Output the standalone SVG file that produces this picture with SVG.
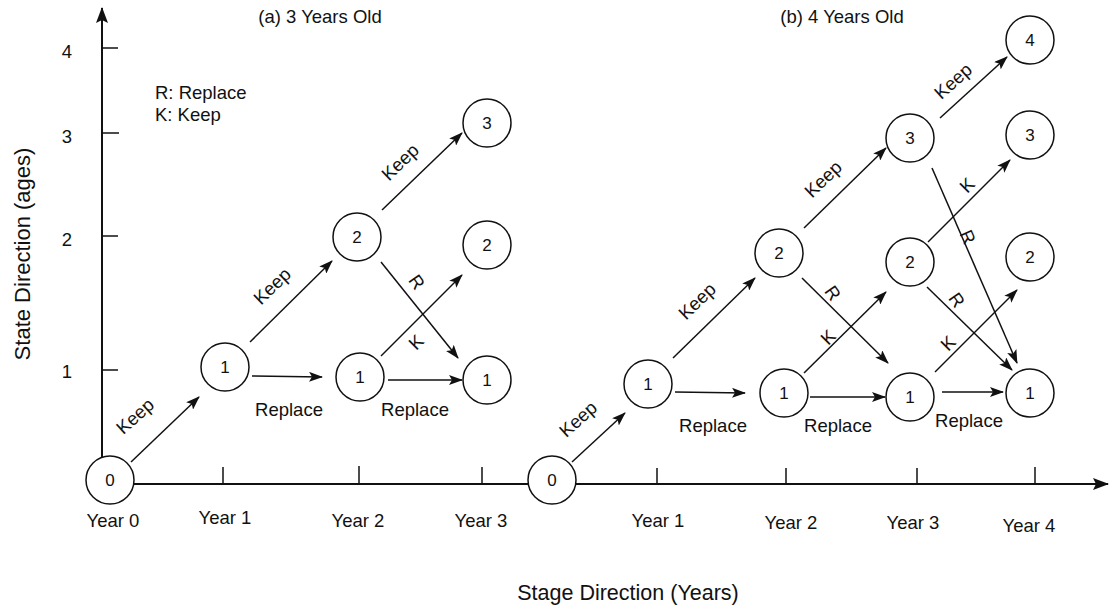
<svg xmlns="http://www.w3.org/2000/svg" width="1109" height="605" viewBox="0 0 1109 605">
  <style>
    text { font-family: "Liberation Sans", Arial, sans-serif; fill: #111; }
    .node circle { fill: #fff; stroke: #111; stroke-width: 1.5; }
    .node text { font-size: 17px; text-anchor: middle; dominant-baseline: central; }
    .edge { stroke: #111; stroke-width: 1.5; fill: none; marker-end: url(#arrow); }
    .axis { stroke: #111; stroke-width: 2; fill: none; }
    .tick { stroke: #111; stroke-width: 1.5; }
    .lbl { font-size: 18.5px; text-anchor: middle; dominant-baseline: central; }
    .tl { font-size: 18.5px; text-anchor: middle; }
  </style>
  <defs>
    <marker id="arrow" viewBox="0 0 14 10" refX="13" refY="5" markerWidth="14" markerHeight="10" markerUnits="userSpaceOnUse" orient="auto">
      <path d="M0,0 L14,5 L0,10 L3,5 z" fill="#111"/>
    </marker>
    <marker id="axisArrow" viewBox="0 0 16 12" refX="15" refY="6" markerWidth="16" markerHeight="12" markerUnits="userSpaceOnUse" orient="auto">
      <path d="M0,0 L16,6 L0,12 L3,6 z" fill="#111"/>
    </marker>
  </defs>

  <!-- axes -->
  <g id="axes">
    <line class="axis" x1="102" y1="458" x2="102" y2="8" marker-end="url(#axisArrow)" stroke-width="1.6"/>
    <line class="axis" x1="120" y1="484" x2="1108" y2="484" marker-end="url(#axisArrow)"/>
    <line class="tick" x1="102" y1="48" x2="118" y2="48"/>
    <line class="tick" x1="102" y1="133" x2="119" y2="133"/>
    <line class="tick" x1="102" y1="236" x2="118" y2="236"/>
    <line class="tick" x1="102" y1="370" x2="118" y2="370"/>
    <line class="tick" x1="223" y1="467" x2="223" y2="484"/>
    <line class="tick" x1="359" y1="466" x2="359" y2="484"/>
    <line class="tick" x1="482" y1="467" x2="482" y2="484"/>
    <line class="tick" x1="657" y1="468" x2="657" y2="484"/>
    <line class="tick" x1="786" y1="468" x2="786" y2="484"/>
    <line class="tick" x1="917" y1="468" x2="917" y2="484"/>
    <line class="tick" x1="1035" y1="467" x2="1035" y2="484"/>
    <text class="tl" x="67" y="58">4</text>
    <text class="tl" x="67" y="143">3</text>
    <text class="tl" x="67" y="246">2</text>
    <text class="tl" x="67" y="378">1</text>
    <text class="tl" x="113" y="527">Year 0</text>
    <text class="tl" x="225" y="524">Year 1</text>
    <text class="tl" x="358" y="527">Year 2</text>
    <text class="tl" x="481" y="527">Year 3</text>
    <text class="tl" x="658" y="527">Year 1</text>
    <text class="tl" x="791" y="529">Year 2</text>
    <text class="tl" x="913" y="529">Year 3</text>
    <text class="tl" x="1029" y="532">Year 4</text>
    <text x="22" y="254" font-size="22" text-anchor="middle" transform="rotate(-90 22 254)" dominant-baseline="central">State Direction (ages)</text>
    <text x="628" y="600" font-size="21.5" text-anchor="middle">Stage Direction (Years)</text>
  </g>

  <!-- titles and legend -->
  <g id="titles">
    <text class="tl" x="320" y="23">(a) 3 Years Old</text>
    <text class="tl" x="842" y="23">(b) 4 Years Old</text>
    <text x="155" y="99" font-size="18.5">R: Replace</text>
    <text x="155" y="121" font-size="18.5">K: Keep</text>
  </g>

  <!-- connectors -->
  <g id="connectors">
    <!-- panel (a) -->
    <line class="edge" x1="131" y1="462" x2="199" y2="397"/>
    <line class="edge" x1="252" y1="376" x2="322" y2="377"/>
    <line class="edge" x1="388" y1="380" x2="462" y2="380"/>
    <line class="edge" x1="250" y1="342" x2="332" y2="261"/>
    <line class="edge" x1="382" y1="210" x2="462" y2="133"/>
    <line class="edge" x1="381" y1="262" x2="458" y2="358"/>
    <line class="edge" x1="381" y1="356" x2="462" y2="275"/>
    <!-- panel (b) -->
    <line class="edge" x1="572" y1="462" x2="625" y2="413"/>
    <line class="edge" x1="673" y1="358" x2="755" y2="278"/>
    <line class="edge" x1="675" y1="392" x2="745" y2="393"/>
    <line class="edge" x1="804" y1="228" x2="886" y2="148"/>
    <line class="edge" x1="940" y1="118" x2="1007" y2="57"/>
    <line class="edge" x1="802" y1="278" x2="888" y2="363"/>
    <line class="edge" x1="804" y1="373" x2="886" y2="292"/>
    <line class="edge" x1="810" y1="397" x2="885" y2="397"/>
    <line class="edge" x1="928" y1="242" x2="1010" y2="160"/>
    <line class="edge" x1="932" y1="168" x2="1017" y2="363"/>
    <line class="edge" x1="927" y1="287" x2="1012" y2="370"/>
    <line class="edge" x1="935" y1="372" x2="1017" y2="290"/>
    <line class="edge" x1="942" y1="392" x2="1003" y2="392"/>
  </g>

  <!-- connector labels -->
  <g id="edge-labels">
    <text class="lbl" x="135" y="416" transform="rotate(-42 135 416)">Keep</text>
    <text class="lbl" x="272" y="286" transform="rotate(-44 272 286)">Keep</text>
    <text class="lbl" x="400" y="162" transform="rotate(-44 400 162)">Keep</text>
    <text class="lbl" x="289" y="409">Replace</text>
    <text class="lbl" x="415" y="409">Replace</text>
    <text class="lbl" x="417" y="282" transform="rotate(55 417 282)">R</text>
    <text class="lbl" x="416" y="342" transform="rotate(-45 416 342)">K</text>

    <text class="lbl" x="578" y="419" transform="rotate(-42 578 419)">Keep</text>
    <text class="lbl" x="697" y="301" transform="rotate(-44 697 301)">Keep</text>
    <text class="lbl" x="823" y="179" transform="rotate(-44 823 179)">Keep</text>
    <text class="lbl" x="953" y="81" transform="rotate(-42 953 81)">Keep</text>
    <text class="lbl" x="713" y="425">Replace</text>
    <text class="lbl" x="838" y="425">Replace</text>
    <text class="lbl" x="969" y="420">Replace</text>
    <text class="lbl" x="833" y="293" transform="rotate(55 833 293)">R</text>
    <text class="lbl" x="828" y="337" transform="rotate(-45 828 337)">K</text>
    <text class="lbl" x="968" y="237" transform="rotate(66 968 237)">R</text>
    <text class="lbl" x="967" y="185" transform="rotate(-45 967 185)">K</text>
    <text class="lbl" x="957" y="300" transform="rotate(55 957 300)">R</text>
    <text class="lbl" x="948" y="343" transform="rotate(-45 948 343)">K</text>
  </g>

  <!-- panel (a) nodes -->
  <g id="a-y0-s0" class="node"><circle cx="110" cy="480" r="24"/><text x="110" y="480">0</text></g>
  <g id="a-y1-s1" class="node"><circle cx="225" cy="367" r="24"/><text x="225" y="367">1</text></g>
  <g id="a-y2-s2" class="node"><circle cx="357" cy="237" r="24"/><text x="357" y="237">2</text></g>
  <g id="a-y2-s1" class="node"><circle cx="360" cy="377" r="24"/><text x="360" y="377">1</text></g>
  <g id="a-y3-s3" class="node"><circle cx="487" cy="123" r="24"/><text x="487" y="123">3</text></g>
  <g id="a-y3-s2" class="node"><circle cx="487" cy="245" r="24"/><text x="487" y="245">2</text></g>
  <g id="a-y3-s1" class="node"><circle cx="487" cy="380" r="24"/><text x="487" y="380">1</text></g>

  <!-- panel (b) nodes -->
  <g id="b-y0-s0" class="node"><circle cx="552" cy="480" r="24"/><text x="552" y="480">0</text></g>
  <g id="b-y1-s1" class="node"><circle cx="648" cy="384" r="24"/><text x="648" y="384">1</text></g>
  <g id="b-y2-s2" class="node"><circle cx="779" cy="253" r="24"/><text x="779" y="253">2</text></g>
  <g id="b-y2-s1" class="node"><circle cx="784" cy="393" r="24"/><text x="784" y="393">1</text></g>
  <g id="b-y3-s3" class="node"><circle cx="910" cy="138" r="24"/><text x="910" y="138">3</text></g>
  <g id="b-y3-s2" class="node"><circle cx="910" cy="262" r="24"/><text x="910" y="262">2</text></g>
  <g id="b-y3-s1" class="node"><circle cx="910" cy="397" r="24"/><text x="910" y="397">1</text></g>
  <g id="b-y4-s4" class="node"><circle cx="1030" cy="40" r="24"/><text x="1030" y="40">4</text></g>
  <g id="b-y4-s3" class="node"><circle cx="1030" cy="135" r="24"/><text x="1030" y="135">3</text></g>
  <g id="b-y4-s2" class="node"><circle cx="1030" cy="257" r="24"/><text x="1030" y="257">2</text></g>
  <g id="b-y4-s1" class="node"><circle cx="1030" cy="393" r="24"/><text x="1030" y="393">1</text></g>
</svg>
